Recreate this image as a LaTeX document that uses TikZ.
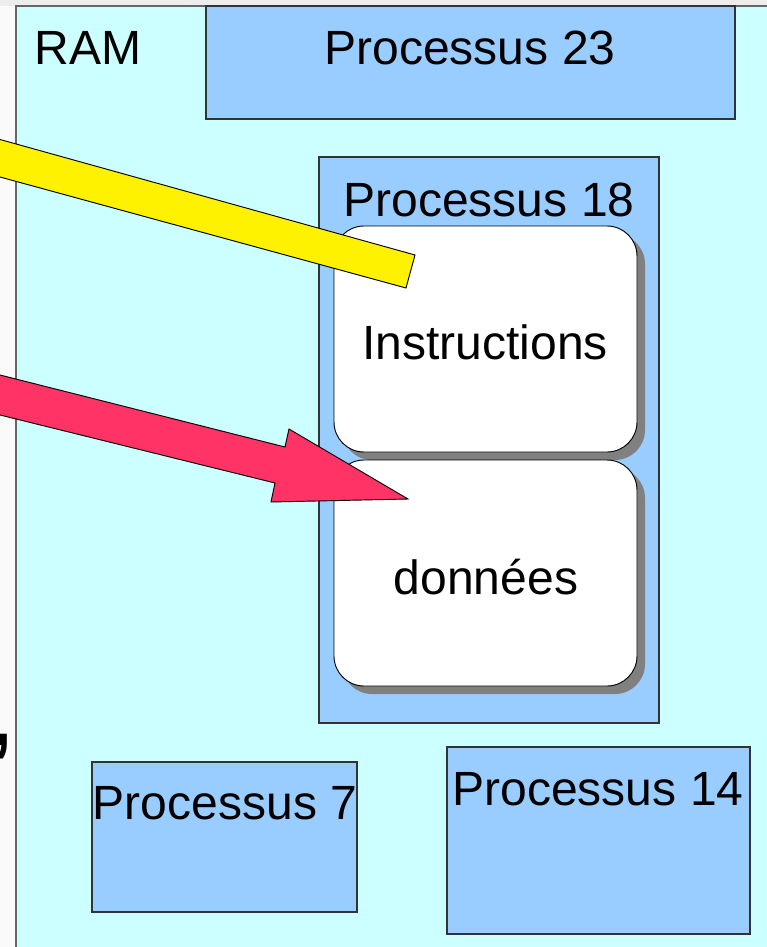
\documentclass[tikz,border=0pt]{standalone}
\usepackage{fontspec}
\setmainfont{Liberation Sans}
\definecolor{ramcyan}{HTML}{CCFFFF}
\definecolor{procblue}{HTML}{99CCFF}
\definecolor{arrowred}{HTML}{FF3366}

\begin{document}
\begin{tikzpicture}[x=0.03cm,y=-0.03cm,font=\fontsize{41}{49}\selectfont,
  procbox/.style={draw=black!80,fill=procblue,line width=0.9pt},
  membox/.style={draw=black,fill=white,rounded corners=0.9cm,line width=0.8pt},
  memshadow/.style={fill=black!50,rounded corners=0.9cm}]
\useasboundingbox (0,0) rectangle (767,947);
% page edge and the RAM area
\fill[black!2] (0,0) rectangle (767,947);
\fill[black!7] (0,0) rectangle (767,6);
\draw[fill=ramcyan,draw=black!60,line width=1.5pt] (16,6) rectangle (790,970);
\node (ram) at (88,48) {RAM};
\node[anchor=base east,inner sep=0pt] (comma) at (17,745) {\fontsize{90}{90}\selectfont ,};
% process 23
\draw[procbox] (206,6) rectangle (735,119);
\node (p23) at (470,48) {Processus 23};
% process 18 with its two segments
\draw[procbox] (319,157) rectangle (659,723);
\node (p18) at (489,200) {Processus 18};
\fill[memshadow] (342,234) rectangle (645,460);
\draw[membox] (334,226) rectangle (637,452);
\node (instr) at (485,342) {Instructions};
\fill[memshadow] (342,468) rectangle (645,694);
\draw[membox] (334,460) rectangle (637,686);
\node (data) at (486,577) {données};
% pointers
\draw[fill=yellow,line width=0.8pt] (0,139.5) -- (415,255) -- (406,288) -- (0,177);
\draw[fill=arrowred,line width=0.8pt] (0,375) -- (285,447) -- (289,429) -- (408,499)
  -- (271,502) -- (275,483) -- (0,415);
% the other processes
\draw[procbox] (92,762) rectangle (357,912);
\node (p7) at (225,803) {Processus 7};
\draw[procbox] (447,747) rectangle (750,934);
\node (p14) at (598,789) {Processus 14};
\end{tikzpicture}
\end{document}
